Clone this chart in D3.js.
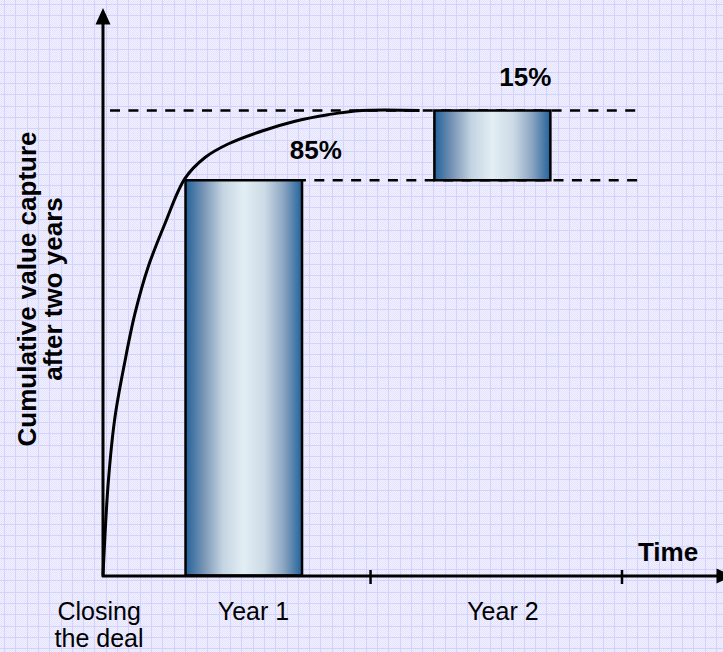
<!DOCTYPE html>
<html>
<head>
<meta charset="utf-8">
<script src="https://cdn.jsdelivr.net/npm/d3@7"></script>
<style>
  html, body { margin: 0; padding: 0; background: #EDEDFF; }
  svg { display: block; }
  text { font-family: "Liberation Sans", Arial, sans-serif; fill: #000; }
</style>
</head>
<body>
<script>
// ---- data (x in years since closing, y in % of two-year value capture) ----
const curveYears = [0, 0.020, 0.046, 0.085, 0.123, 0.173, 0.239, 0.316, 0.393, 0.482, 0.613, 0.740, 0.867, 0.998, 1.22];
const curveValues = [0, 19.8, 34.0, 46.2, 56.3, 66.2, 75.7, 85.4, 89.9, 92.8, 95.6, 97.7, 99.1, 100, 100];
const barNames = ["Year 1", "Year 2"];
const barStart = [0.318, 1.277];
const barEnd = [0.767, 1.724];
const barFrom = [0, 85];
const barTo = [85, 100];
const barLabels = ["85%", "15%"];
const refLevels = [100, 85];
const refFrom = [0.027, 0.318];
const refTo = [2.081, 2.081];
const tickYears = [1.031, 2.0];
const categoryLabels = [["Closing", "the deal"], ["Year 1"], ["Year 2"]];
const categoryYears = [-0.015, 0.58, 1.541];
const yTitle = ["Cumulative value capture", "after two years"];
const xTitle = "Time";

const W = 723, H = 652;
const svg = d3.select("body").append("svg").attr("width", W).attr("height", H);

// background grid paper
const defs = svg.append("defs");
const pat = defs.append("pattern").attr("id", "dots").attr("patternUnits", "userSpaceOnUse")
  .attr("width", 2).attr("height", 2);
pat.append("rect").attr("width", 2).attr("height", 2).attr("fill", "#F0F0FF");
pat.append("rect").attr("width", 1).attr("height", 1).attr("fill", "#E3E3FE");
pat.append("rect").attr("x", 1).attr("y", 1).attr("width", 1).attr("height", 1).attr("fill", "#E3E3FE");
svg.append("rect").attr("width", W).attr("height", H).attr("fill", "url(#dots)");
const grid = svg.append("g").attr("stroke", "#D2D2FB").attr("stroke-width", 1);
d3.range(4, W, 11.3).forEach(v => {
  const p = Math.round(v) + 0.5;
  grid.append("line").attr("x1", p).attr("x2", p).attr("y1", 0).attr("y2", H);
});
d3.range(4, H, 11.3).forEach(v => {
  const p = Math.round(v) + 0.5;
  grid.append("line").attr("y1", p).attr("y2", p).attr("x1", 0).attr("x2", W);
});

// gradient for bars
const grad = defs.append("linearGradient").attr("id", "barGrad")
  .attr("x1", "0%").attr("x2", "100%").attr("y1", "0%").attr("y2", "0%");
[[0, "#22629A"], [0.16, "#7A96B6"], [0.32, "#C4D4E2"], [0.5, "#E3EEF4"], [0.68, "#CCDAE6"], [0.84, "#8CA6C2"], [1, "#22629A"]]
  .forEach(([o, c]) => grad.append("stop").attr("offset", o).attr("stop-color", c));

// scales
const x = d3.scaleLinear().domain([0, 2]).range([103, 622]);
const y = d3.scaleLinear().domain([0, 100]).range([575.5, 110.5]);

// dashed reference lines
svg.append("g").selectAll("line").data(refLevels).join("line")
  .attr("x1", (d, i) => x(refFrom[i])).attr("x2", (d, i) => x(refTo[i]))
  .attr("y1", d => y(d)).attr("y2", d => y(d))
  .attr("stroke", "#000").attr("stroke-width", 2.6).attr("stroke-dasharray", "10,8.4");

// bars
svg.append("g").selectAll("rect").data(barNames).join("rect")
  .attr("x", (d, i) => x(barStart[i]))
  .attr("width", (d, i) => x(barEnd[i]) - x(barStart[i]))
  .attr("y", (d, i) => y(barTo[i]))
  .attr("height", (d, i) => y(barFrom[i]) - y(barTo[i]))
  .attr("fill", "url(#barGrad)").attr("stroke", "#000").attr("stroke-width", 2.5);

// curve
const pts = curveYears.map((t, i) => [t, curveValues[i]]);
svg.append("path").datum(pts)
  .attr("d", d3.line().x(d => x(d[0])).y(d => y(d[1])).curve(d3.curveCatmullRom.alpha(0.5)))
  .attr("fill", "none").attr("stroke", "#000").attr("stroke-width", 3);

// axes
const ax = svg.append("g").attr("stroke", "#000").attr("stroke-width", 3);
ax.append("line").attr("x1", 103).attr("x2", 103).attr("y1", 577).attr("y2", 22);
ax.append("line").attr("x1", 102).attr("x2", 718).attr("y1", 576).attr("y2", 576);
svg.append("path").attr("d", "M103,8 L95.5,24.5 L110.5,24.5 Z").attr("fill", "#000");
svg.append("path").attr("d", "M733,576 L716.5,568.5 L716.5,583.5 Z").attr("fill", "#000");
svg.append("g").selectAll("line").data(tickYears).join("line")
  .attr("x1", d => x(d)).attr("x2", d => x(d)).attr("y1", 570).attr("y2", 584)
  .attr("stroke", "#000").attr("stroke-width", 2.5);

// bar labels
svg.append("g").selectAll("text").data(barLabels).join("text")
  .attr("x", (d, i) => (x(barStart[i]) + x(barEnd[i])) / 2 + (i === 0 ? 72 : 33))
  .attr("y", (d, i) => y(barTo[i]) - (i === 0 ? 21 : 25))
  .attr("text-anchor", "middle").attr("font-weight", "bold").attr("font-size", 26)
  .text(d => d);

// category labels
const cat = svg.append("g").attr("font-size", 25).attr("text-anchor", "middle");
categoryLabels.forEach((lines, i) => {
  lines.forEach((s, j) => {
    cat.append("text").attr("x", x(categoryYears[i])).attr("y", 620 + j * 27).text(s);
  });
});

// axis titles
svg.append("text").attr("x", 668).attr("y", 561).attr("text-anchor", "middle")
  .attr("font-weight", "bold").attr("font-size", 26).text(xTitle);
const yt = svg.append("g").attr("transform", "translate(0,289) rotate(-90)");
yTitle.forEach((s, j) => {
  yt.append("text").attr("x", 0).attr("y", 36 + j * 26).attr("text-anchor", "middle")
    .attr("font-weight", "bold").attr("font-size", 26).text(s);
});
</script>
</body>
</html>
